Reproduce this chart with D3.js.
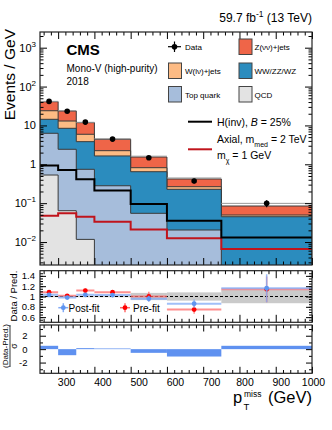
<!DOCTYPE html>
<html>
<head>
<meta charset="utf-8">
<script src="https://cdn.jsdelivr.net/npm/d3@7"></script>
<style>
  body { margin: 0; background: #fff; }
  svg { display: block; font-family: "Liberation Sans", Arial, sans-serif; }
</style>
</head>
<body>
<svg id="chart" width="332" height="430"></svg>
<script>
// binning of pT miss (GeV)
const binEdges = [250, 300, 350, 400, 500, 600, 750, 1000];

// background processes, events / GeV (stacked from bottom to top)
const qcd      = [0.53, 0.064, 0.0117, 0.0005, 0.0003, 0.0002, 0.0001];
const topQuark = [5.75, 2.37, 0.732, 0.28, 0.0545, 0.0202, 0.0014];
const diboson  = [8.1, 6.0, 3.08, 1.36, 0.59, 0.207, 0.0433];
const wJets    = [9.5, 4.56, 2.1, 0.6, 0.173, 0.038, 0.0048];
const zJets    = [16.9, 10.5, 5.88, 2.16, 0.722, 0.154, 0.0349];
const bkgUnc   = [0.02, 0.02, 0.02, 0.03, 0.05, 0.06, 0.17];

// observed data
const dataVals = [41.5, 23.2, 12.2, 4.45, 1.48, 0.372, 0.099];
const dataErr  = [0.9, 0.7, 0.5, 0.2, 0.12, 0.05, 0.02];

// signal hypotheses
const hInv  = [0.93, 0.713, 0.411, 0.212, 0.095, 0.0354, 0.0131];
const axial = [0.0476, 0.0548, 0.0448, 0.0333, 0.021, 0.0125, 0.0066];

// ratio panel
const ratioPost    = [1.032, 0.98, 1.032, 1.027, 0.956, 0.861, 1.16];
const ratioPostErr = [0.03, 0.03, 0.03, 0.04, 0.06, 0.08, 0.27];
const ratioPre     = [1.084, 1.013, 1.114, 1.084, 1.0, 0.747, 1.14];
const ratioPreErr  = [0.03, 0.03, 0.04, 0.04, 0.09, 0.08, 0.25];
const ratioBand    = [0.015, 0.015, 0.015, 0.015, 0.07, 0.08, 0.13];

// pull panel
const pulls = [0.5, -0.9, 0.15, 0.1, -0.55, -1.1, 0.5];

// tick labels
const xTickLabels = [300, 400, 500, 600, 700, 800, 900, 1000];
const ratioTickLabels = [0.6, 0.8, 1, 1.2, 1.4];
const pullTickLabels = [-2, 0, 2];

const svg = d3.select('#chart');

const left = 40, right = 312;
const mainTop = 32, mainBot = 265;
const ratTop = 270.7, ratBot = 322.3;
const pullTop = 325, pullBot = 373.3;

const x = d3.scaleLinear().domain([250, 1000]).range([left, right]);
const yMain = d3.scaleLog().domain([0.002566, 2535]).range([mainBot, mainTop]);
const yRatio = d3.scaleLinear().domain([0.5, 1.5]).range([ratBot, ratTop]);
const yPull = d3.scaleLinear().domain([-3.6, 3.6]).range([pullBot, pullTop]);

const bins = binEdges.slice(0, -1).map((lo, i) => ({ lo, hi: binEdges[i + 1], i, mid: (lo + binEdges[i + 1]) / 2 }));
const yMin = yMain.domain()[0];

// clip paths
const defs = svg.append('defs');
[['clipMain', mainTop, mainBot], ['clipRatio', ratTop, ratBot], ['clipPull', pullTop, pullBot]].forEach(([id, t, b]) => {
    defs.append('clipPath').attr('id', id)
        .append('rect').attr('x', left).attr('y', t).attr('width', right - left).attr('height', b - t);
});

// ---------- main panel ----------
const procs = [
    { name: 'QCD', vals: qcd, color: '#e3e3e3' },
    { name: 'Top quark', vals: topQuark, color: '#a6bddb' },
    { name: 'WW/ZZ/WZ', vals: diboson, color: '#2b8cbe' },
    { name: 'W(lν)+jets', vals: wJets, color: '#fdbb84' },
    { name: 'Z(νν)+jets', vals: zJets, color: '#ef6548' }
];
const running = new Array(bins.length).fill(0);
procs.forEach(p => {
    p.cum = p.vals.map((v, i) => (running[i] += v));
});

const mainG = svg.append('g').attr('clip-path', 'url(#clipMain)');

function stepPoints(vals) {
    const pts = [];
    bins.forEach(b => {
        pts.push([b.lo, vals[b.i]]);
        pts.push([b.hi, vals[b.i]]);
    });
    return pts;
}

const areaLine = d3.line()
    .x(d => x(d[0]))
    .y(d => yMain(Math.max(d[1], yMin / 2)));

// stacked histograms drawn from the largest cumulative sum down
procs.slice().reverse().forEach(p => {
    const pts = [[250, yMin / 2]].concat(stepPoints(p.cum), [[1000, yMin / 2]]);
    mainG.append('path')
        .attr('d', areaLine(pts) + 'Z')
        .attr('fill', p.color)
        .attr('stroke', '#3a3a3a')
        .attr('stroke-width', 1);
});

// background uncertainty upper edge
const total = procs[procs.length - 1].cum;
mainG.selectAll('.unc')
    .data(bins)
    .enter()
    .append('line')
    .attr('x1', d => x(d.lo))
    .attr('x2', d => x(d.hi))
    .attr('y1', d => yMain(total[d.i] * (1 + bkgUnc[d.i])))
    .attr('y2', d => yMain(total[d.i] * (1 + bkgUnc[d.i])))
    .attr('stroke', '#999')
    .attr('stroke-width', 1);

// signal lines
const sigLine = d3.line().x(d => x(d[0])).y(d => yMain(d[1]));
mainG.append('path')
    .attr('d', sigLine(stepPoints(axial)))
    .attr('fill', 'none')
    .attr('stroke', '#c0141c')
    .attr('stroke-width', 2);
mainG.append('path')
    .attr('d', sigLine(stepPoints(hInv)))
    .attr('fill', 'none')
    .attr('stroke', '#000')
    .attr('stroke-width', 2);

// data points
const dataG = mainG.append('g');
dataG.selectAll('line')
    .data(bins)
    .enter()
    .append('line')
    .attr('x1', d => x(d.mid))
    .attr('x2', d => x(d.mid))
    .attr('y1', d => yMain(dataVals[d.i] + dataErr[d.i]))
    .attr('y2', d => yMain(Math.max(dataVals[d.i] - dataErr[d.i], yMin)))
    .attr('stroke', '#000')
    .attr('stroke-width', 1.2);
dataG.selectAll('circle')
    .data(bins)
    .enter()
    .append('circle')
    .attr('cx', d => x(d.mid))
    .attr('cy', d => yMain(dataVals[d.i]))
    .attr('r', 2.8)
    .attr('fill', '#000');

// ---------- ratio panel ----------
const ratioG = svg.append('g').attr('clip-path', 'url(#clipRatio)');
ratioG.selectAll('.band')
    .data(bins)
    .enter()
    .append('rect')
    .attr('x', d => x(d.lo))
    .attr('width', d => x(d.hi) - x(d.lo))
    .attr('y', d => yRatio(1 + ratioBand[d.i]))
    .attr('height', d => yRatio(1 - ratioBand[d.i]) - yRatio(1 + ratioBand[d.i]))
    .attr('fill', '#cacaca');
ratioG.append('line')
    .attr('x1', x(250)).attr('x2', x(1000))
    .attr('y1', yRatio(1)).attr('y2', yRatio(1))
    .attr('stroke', '#000')
    .attr('stroke-width', 1.2)
    .attr('stroke-dasharray', '3,2');

function drawRatio(vals, errs, color, light) {
    const g = ratioG.append('g');
    g.selectAll('.xe')
        .data(bins)
        .enter()
        .append('line')
        .attr('x1', d => x(d.lo))
        .attr('x2', d => x(d.hi))
        .attr('y1', d => yRatio(vals[d.i]))
        .attr('y2', d => yRatio(vals[d.i]))
        .attr('stroke', light)
        .attr('stroke-opacity', 0.75)
        .attr('stroke-width', 2);
    g.selectAll('.ye')
        .data(bins)
        .enter()
        .append('line')
        .attr('x1', d => x(d.mid))
        .attr('x2', d => x(d.mid))
        .attr('y1', d => yRatio(vals[d.i] + errs[d.i]))
        .attr('y2', d => yRatio(vals[d.i] - errs[d.i]))
        .attr('stroke', light)
        .attr('stroke-opacity', 0.8)
        .attr('stroke-width', 1.5);
    g.selectAll('circle')
        .data(bins)
        .enter()
        .append('circle')
        .attr('cx', d => x(d.mid))
        .attr('cy', d => yRatio(vals[d.i]))
        .attr('r', 2.4)
        .attr('fill', color);
}
drawRatio(ratioPre, ratioPreErr, '#ff0000', '#ff6a6a');
drawRatio(ratioPost, ratioPostErr, '#5f95f0', '#82aaf5');

// ratio legend
function legendMarker(cx, cy, color, light) {
    svg.append('line').attr('x1', cx - 5).attr('x2', cx + 5).attr('y1', cy).attr('y2', cy)
        .attr('stroke', light).attr('stroke-width', 1.5);
    svg.append('line').attr('x1', cx).attr('x2', cx).attr('y1', cy - 4.5).attr('y2', cy + 4.5)
        .attr('stroke', light).attr('stroke-width', 1.5);
    svg.append('circle').attr('cx', cx).attr('cy', cy).attr('r', 2.4).attr('fill', color);
}
legendMarker(63.3, 307.7, '#5f95f0', '#82aaf5');
legendMarker(125, 307.7, '#ff0000', '#ff6a6a');
svg.append('text').attr('x', 68.5).attr('y', 311.5).attr('font-size', 10).text('Post-fit');
svg.append('text').attr('x', 133).attr('y', 311.5).attr('font-size', 10).text('Pre-fit');

// ---------- pull panel ----------
const pullG = svg.append('g').attr('clip-path', 'url(#clipPull)');
pullG.selectAll('rect')
    .data(bins)
    .enter()
    .append('rect')
    .attr('x', d => x(d.lo))
    .attr('width', d => x(d.hi) - x(d.lo))
    .attr('y', d => yPull(Math.max(pulls[d.i], 0)))
    .attr('height', d => Math.abs(yPull(pulls[d.i]) - yPull(0)))
    .attr('fill', '#5f91f0');

// ---------- frames and ticks ----------
const majorX = xTickLabels;
const minorX = d3.range(260, 1000, 20).filter(v => v % 100 !== 0);

function cleanAxis(g) {
    g.select('.domain').remove();
    g.selectAll('.tick line').attr('stroke', '#000').attr('stroke-width', 1);
}

function xTicks(yTop, yBot, majLen, minLen) {
    [[d3.axisBottom, yBot], [d3.axisTop, yTop]].forEach(([fn, yy]) => {
        svg.append('g').attr('transform', `translate(0,${yy})`)
            .call(fn(x).tickValues(majorX).tickSize(-majLen).tickFormat(''))
            .call(cleanAxis);
        svg.append('g').attr('transform', `translate(0,${yy})`)
            .call(fn(x).tickValues(minorX).tickSize(-minLen).tickFormat(''))
            .call(cleanAxis);
    });
}

function yTicks(scale, major, minor, majLen, minLen) {
    [[d3.axisLeft, left], [d3.axisRight, right]].forEach(([fn, xx]) => {
        svg.append('g').attr('transform', `translate(${xx},0)`)
            .call(fn(scale).tickValues(major).tickSize(-majLen).tickFormat(''))
            .call(cleanAxis);
        svg.append('g').attr('transform', `translate(${xx},0)`)
            .call(fn(scale).tickValues(minor).tickSize(-minLen).tickFormat(''))
            .call(cleanAxis);
    });
}

// main panel ticks
xTicks(mainTop, mainBot, 7, 3.5);
const decades = d3.range(-2, 4).map(n => Math.pow(10, n));
const logMinor = [];
d3.range(-3, 4).forEach(n => {
    d3.range(2, 10).forEach(k => {
        const v = k * Math.pow(10, n);
        if (v > yMin && v < yMain.domain()[1]) logMinor.push(v);
    });
});
yTicks(yMain, decades, logMinor, 7, 3.5);

// main y labels with exponents
svg.append('g').attr('transform', `translate(${left},0)`)
    .call(d3.axisLeft(yMain).tickValues(decades).tickSize(0).tickPadding(4))
    .call(g => g.select('.domain').remove())
    .call(g => g.selectAll('.tick text')
        .attr('font-size', 11)
        .attr('font-family', '"Liberation Sans", Arial, sans-serif')
        .attr('fill', '#000')
        .each(function (d) {
            const t = d3.select(this);
            const n = Math.round(Math.log10(d));
            t.text(null);
            if (n === 0) {
                t.text('1');
            } else if (n === 1) {
                t.text('10');
            } else {
                t.append('tspan').text('10');
                t.append('tspan').attr('dy', -5).attr('font-size', 8).text(n < 0 ? '\u2212' + (-n) : n);
            }
        }));

// ratio ticks
xTicks(ratTop, ratBot, 7.5, 3.5);
yTicks(yRatio, d3.range(0.6, 1.5, 0.2), d3.range(0.55, 1.5, 0.05), 6, 3);
svg.append('g').attr('transform', `translate(${left},0)`)
    .call(d3.axisLeft(yRatio).tickValues(ratioTickLabels).tickSize(0).tickPadding(5).tickFormat(d3.format('~g')))
    .call(g => g.select('.domain').remove())
    .call(g => g.selectAll('.tick text').attr('font-size', 9.5)
        .attr('font-family', '"Liberation Sans", Arial, sans-serif').attr('fill', '#000'));

// pull ticks
xTicks(pullTop, pullBot, 6.5, 3.3);
yTicks(yPull, [-2, 0, 2], [-3, -1, 1, 3], 6, 3);
svg.append('g').attr('transform', `translate(${left},0)`)
    .call(d3.axisLeft(yPull).tickValues(pullTickLabels).tickSize(0).tickPadding(12.5).tickFormat(d3.format('d')))
    .call(g => g.select('.domain').remove())
    .call(g => g.selectAll('.tick text').attr('font-size', 9.5)
        .attr('font-family', '"Liberation Sans", Arial, sans-serif').attr('fill', '#000')
        .text(d => d < 0 ? '-' + (-d) : d));

// x tick labels under the pull panel
svg.append('g').attr('transform', `translate(0,${pullBot})`)
    .call(d3.axisBottom(x).tickValues(xTickLabels).tickSize(0).tickPadding(5.5).tickFormat(d3.format('d')))
    .call(g => g.select('.domain').remove())
    .call(g => g.selectAll('.tick text').attr('font-size', 10.5)
        .attr('font-family', '"Liberation Sans", Arial, sans-serif').attr('fill', '#000')
        .attr('dx', d => d < 800 ? 8 : d < 1000 ? 5 : 1));

// frames
[[mainTop, mainBot], [ratTop, ratBot], [pullTop, pullBot]].forEach(([t, b]) => {
    svg.append('rect')
        .attr('x', left).attr('y', t)
        .attr('width', right - left).attr('height', b - t)
        .attr('fill', 'none')
        .attr('stroke', '#222')
        .attr('stroke-width', 1.2);
});

// ---------- texts ----------
const header = svg.append('text').attr('x', 312).attr('y', 22).attr('text-anchor', 'end').attr('font-size', 12);
header.append('tspan').text('59.7 fb');
header.append('tspan').attr('dy', -5).attr('font-size', 8.5).text('-1');
header.append('tspan').attr('dy', 5).text(' (13 TeV)');

svg.append('text').attr('x', 66.5).attr('y', 55).attr('font-size', 15).attr('font-weight', 'bold').text('CMS');
svg.append('text').attr('x', 66.5).attr('y', 72).attr('font-size', 10).text('Mono-V (high-purity)');
svg.append('text').attr('x', 66.5).attr('y', 85).attr('font-size', 10).text('2018');

// axis titles
svg.append('text')
    .attr('transform', 'translate(15,29) rotate(-90)')
    .attr('text-anchor', 'end')
    .attr('font-size', 15.5)
    .text('Events / GeV');
svg.append('text')
    .attr('transform', `translate(17,${ratTop}) rotate(-90)`)
    .attr('text-anchor', 'end')
    .attr('font-size', 9.5)
    .text('Data / Pred.');
svg.append('text')
    .attr('transform', 'translate(8,346) rotate(-90)')
    .attr('text-anchor', 'middle')
    .attr('font-size', 8)
    .text('(Data-Pred.)');
svg.append('line').attr('x1', 10).attr('x2', 10).attr('y1', 325).attr('y2', 367)
    .attr('stroke', '#000').attr('stroke-width', 0.8);
svg.append('text')
    .attr('transform', 'translate(16.5,346) rotate(-90)')
    .attr('text-anchor', 'middle')
    .attr('font-size', 8.5)
    .text('σ');

svg.append('text').attr('x', 312).attr('y', 403).attr('text-anchor', 'end').attr('font-size', 16.5).text('(GeV)');
svg.append('text').attr('x', 233).attr('y', 403).attr('font-size', 16.5).text('p');
svg.append('text').attr('x', 244).attr('y', 396.5).attr('font-size', 8.5).text('miss');
svg.append('text').attr('x', 243.5).attr('y', 410).attr('font-size', 9.5).text('T');

// ---------- main legend ----------
const legendBoxes = [
    { label: 'Z(νν)+jets', color: '#ef6548', x: 239, y: 39, tx: 254.5, ty: 50 },
    { label: 'W(lν)+jets', color: '#fdbb84', x: 168.5, y: 63, tx: 185, ty: 74 },
    { label: 'WW/ZZ/WZ', color: '#2b8cbe', x: 239, y: 63, tx: 254.5, ty: 74 },
    { label: 'Top quark', color: '#a6bddb', x: 168.5, y: 86.5, tx: 185, ty: 97.5 },
    { label: 'QCD', color: '#e3e3e3', x: 239, y: 86.5, tx: 254.5, ty: 97.5 }
];
legendBoxes.forEach(d => {
    svg.append('rect').attr('x', d.x).attr('y', d.y).attr('width', 13).attr('height', 15.5)
        .attr('fill', d.color).attr('stroke', '#444').attr('stroke-width', 1);
    svg.append('text').attr('x', d.tx).attr('y', d.ty).attr('font-size', 8).text(d.label);
});
svg.append('line').attr('x1', 168).attr('x2', 181).attr('y1', 46.7).attr('y2', 46.7).attr('stroke', '#000').attr('stroke-width', 1.2);
svg.append('line').attr('x1', 174.5).attr('x2', 174.5).attr('y1', 41.5).attr('y2', 52).attr('stroke', '#000').attr('stroke-width', 1.2);
svg.append('circle').attr('cx', 174.5).attr('cy', 46.7).attr('r', 2.8).attr('fill', '#000');
svg.append('text').attr('x', 185).attr('y', 50).attr('font-size', 8).text('Data');

svg.append('line').attr('x1', 188).attr('x2', 212).attr('y1', 121.7).attr('y2', 121.7).attr('stroke', '#000').attr('stroke-width', 2);
const hText = svg.append('text').attr('x', 217).attr('y', 125.5).attr('font-size', 10.5);
hText.append('tspan').text('H(inv), ');
hText.append('tspan').attr('font-style', 'italic').text('B');
hText.append('tspan').text(' = 25%');

svg.append('line').attr('x1', 188).attr('x2', 212).attr('y1', 149.3).attr('y2', 149.3).attr('stroke', '#c0141c').attr('stroke-width', 2);
const aText = svg.append('text').attr('x', 217).attr('y', 143.3).attr('font-size', 10.5);
aText.append('tspan').text('Axial, m');
aText.append('tspan').attr('dy', 3.5).attr('font-size', 7).text('med');
aText.append('tspan').attr('dy', -3.5).text(' = 2 TeV');
const mText = svg.append('text').attr('x', 217).attr('y', 159.3).attr('font-size', 10.5);
mText.append('tspan').text('m');
mText.append('tspan').attr('dy', 3.5).attr('font-size', 7).text('χ');
mText.append('tspan').attr('dy', -3.5).text(' = 1 GeV');
</script>
</body>
</html>
